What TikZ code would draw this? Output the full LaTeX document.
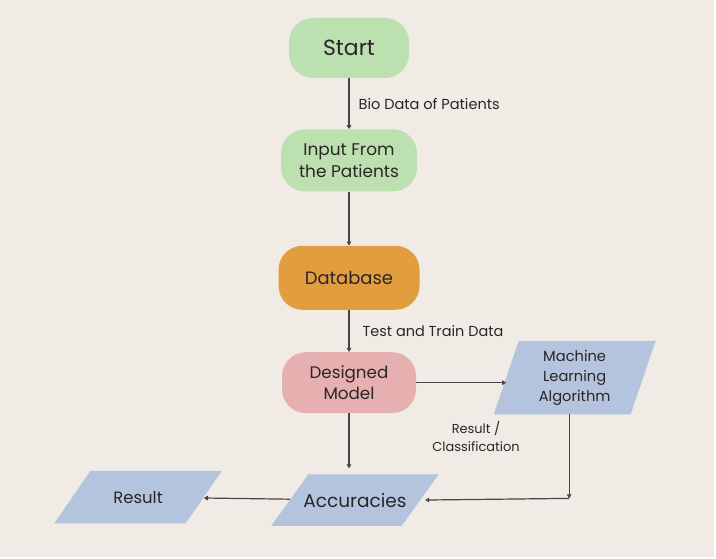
\documentclass[tikz,border=0pt]{standalone}
\usepackage{fontspec}
\setmainfont{Poppins}
\usepackage{xcolor}
\usetikzlibrary{arrows.meta,positioning,backgrounds}

\definecolor{bgbeige}{HTML}{F0EBE4}
\definecolor{pillgreen}{HTML}{BDE0B1}
\definecolor{dborange}{HTML}{E29D3E}
\definecolor{modelpink}{HTML}{E6B0B0}
\definecolor{parablue}{HTML}{B4C4DE}
\definecolor{txtdark}{HTML}{2B2526}
\definecolor{linegray}{HTML}{4A4545}

\begin{document}
\begin{tikzpicture}[
  x=1bp, y=1bp,
  pill/.style={rounded corners=24bp, align=center, text=txtdark, inner sep=2pt},
  % parallelogram drawn behind a plain box; #1 = half of the slant
  para/.style={align=center, text=txtdark, inner sep=2pt,
    append after command={\pgfextra{\begin{pgfonlayer}{background}
      \fill[parablue] ([xshift=#1]\tikzlastnode.north west) -- ([xshift=#1]\tikzlastnode.north east)
        -- ([xshift=-#1]\tikzlastnode.south east) -- ([xshift=-#1]\tikzlastnode.south west) -- cycle;
      \end{pgfonlayer}}}},
  arr/.style={-{Triangle[length=4bp,width=4.5bp]}, line width=1.2bp, draw=linegray},
  lbl/.style={text=txtdark, inner sep=0pt, align=center}
]
  \begin{scope}[on background layer]
    \fill[white] (0,0) rectangle (716,559);
    \fill[bgbeige] (0,2) rectangle (714,559);
  \end{scope}
  \useasboundingbox (0,0) rectangle (716,559);

  \node[pill, fill=pillgreen, minimum width=120bp, minimum height=60bp,
    font=\fontsize{22}{24}\selectfont] (start) at (349,511) {Start};
  \node[pill, fill=pillgreen, minimum width=136bp, minimum height=62bp,
    font=\fontsize{17}{22}\selectfont, below=51bp of start] (input) {Input From\\the Patients};
  \node[pill, fill=dborange, minimum width=141bp, minimum height=64bp,
    font=\fontsize{18}{22}\selectfont, below=54bp of input] (db) {Database};
  \node[pill, fill=modelpink, minimum width=134bp, minimum height=61bp,
    font=\fontsize{16.8}{21}\selectfont, below=42bp of db] (model) {Designed\\Model};
  \node[para=12.5bp, minimum width=136.5bp, minimum height=73bp,
    font=\fontsize{14.7}{20}\selectfont, right=90bp of model, yshift=5bp] (mla) {Machine\\Learning\\Algorithm};
  \node[para=18.5bp, minimum width=130bp, minimum height=51bp,
    font=\fontsize{18.6}{22}\selectfont, below=61bp of model, xshift=6bp] (acc) {Accuracies};
  \node[para=18bp, minimum width=131bp, minimum height=52bp,
    font=\fontsize{16.5}{18}\selectfont, left=86bp of acc, yshift=3bp] (res) {Result};

  \coordinate (bend) at ([xshift=-5.5bp, yshift=-84bp]mla.south);
  \node[lbl, font=\fontsize{13}{18}\selectfont] (rclass) at (476,123) {Result /\\Classification};

  \draw[arr] (start) -- node[lbl, right, xshift=9bp, font=\fontsize{14.6}{16}\selectfont]
    (biolbl) {Bio Data of Patients} (input);
  \draw[arr] (input) -- (db);
  \draw[arr] (db) -- node[lbl, right, xshift=13bp, font=\fontsize{14.5}{16}\selectfont]
    (ttlbl) {Test and Train Data} (model);
  \draw[arr] (model) -- (model -| mla.west);
  \draw[arr, shorten >=6bp] (model) -- (model |- acc.north);
  \draw[arr] ([xshift=-5.5bp]mla.south) -- (bend);
  \draw[arr, shorten >=5bp] (bend) -- (acc.east);
  \draw[arr] (acc) -- (res);
\end{tikzpicture}
\end{document}
